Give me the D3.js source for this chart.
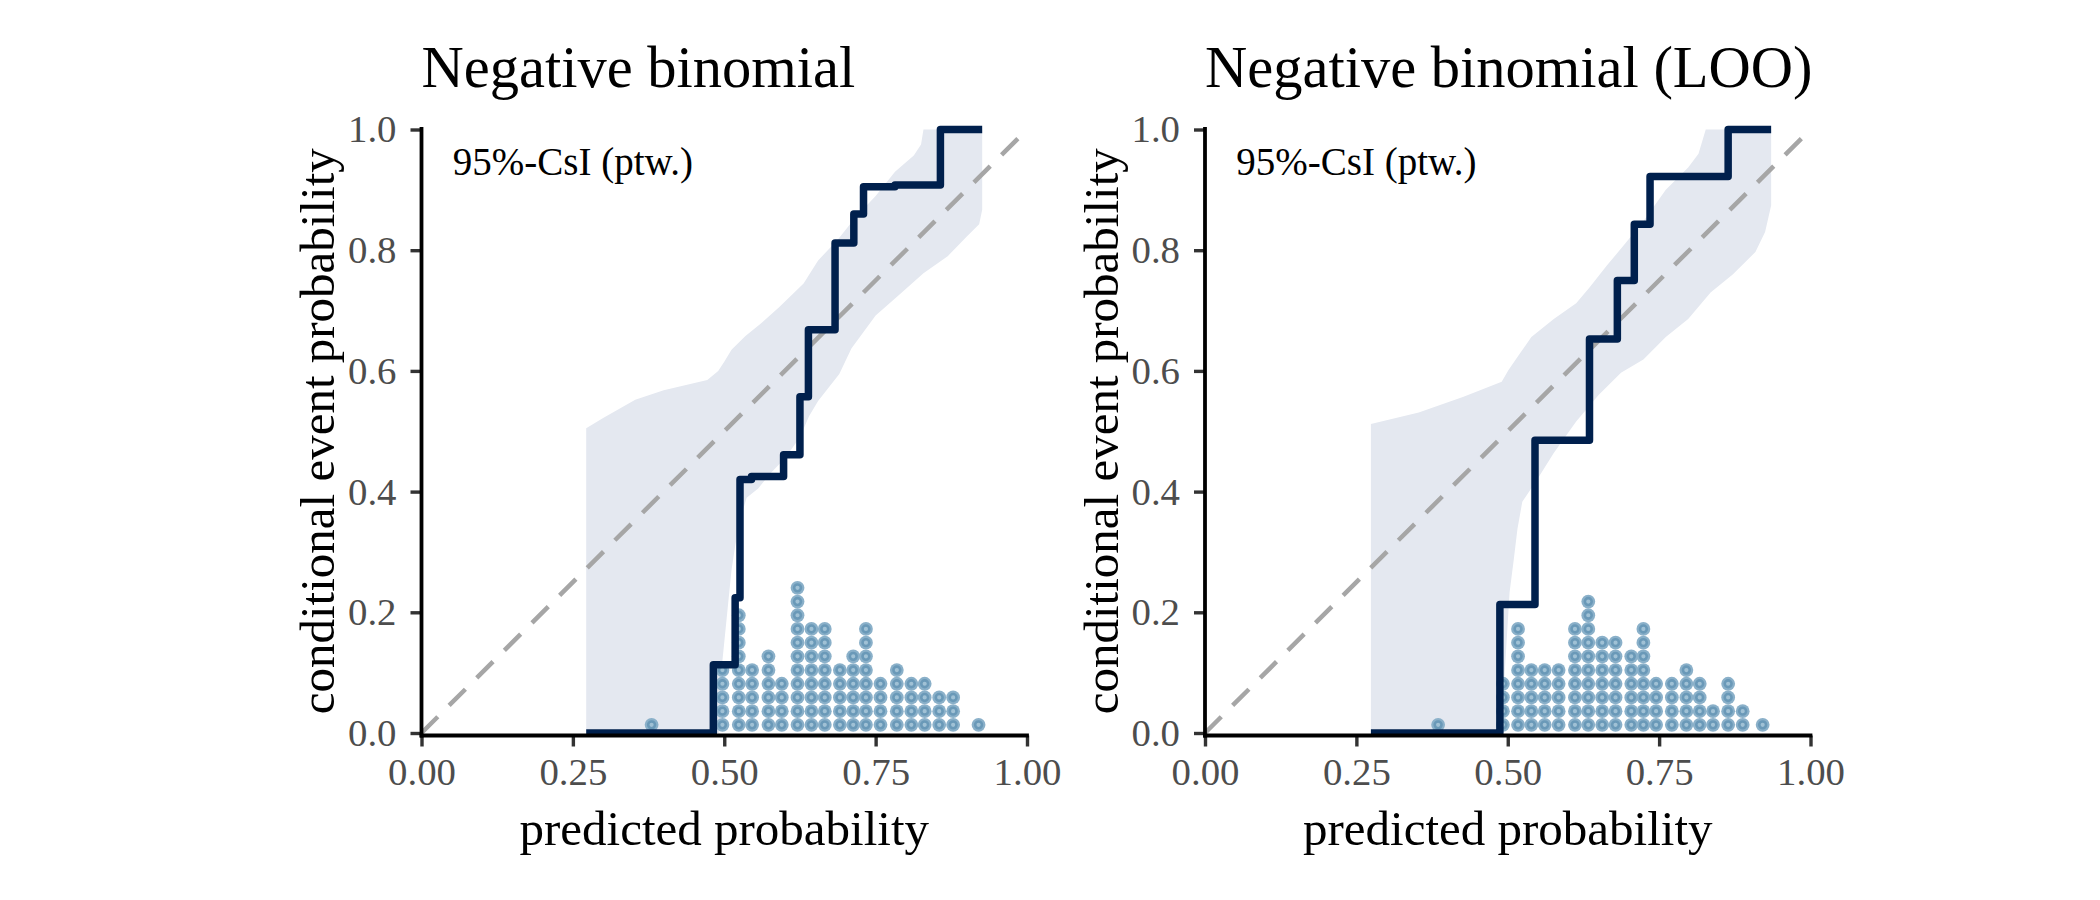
<!DOCTYPE html>
<html>
<head>
<meta charset="utf-8">
<script src="https://cdn.jsdelivr.net/npm/d3@7"></script>
<style>
  body { margin: 0; background: #fff; }
  svg text { font-family: 'Liberation Serif', 'Times New Roman', serif; }
</style>
</head>
<body>
<svg id="chart" width="2100" height="900"></svg>
<script>
// reliability diagrams
const panelTitles = ['Negative binomial', 'Negative binomial (LOO)'];
const bandLabel = '95%-CsI (ptw.)';
const xAxisTitle = 'predicted probability';
const yAxisTitle = 'conditional event probability';

const xTickValues = [0, 0.25, 0.5, 0.75, 1];
const xTickLabels = ['0.00', '0.25', '0.50', '0.75', '1.00'];
const yTickValues = [0, 0.2, 0.4, 0.6, 0.8, 1];
const yTickLabels = ['0.0', '0.2', '0.4', '0.6', '0.8', '1.0'];

// left panel: negative binomial
const nbStepX = [0.272, 0.482, 0.518, 0.526, 0.545, 0.598, 0.625, 0.639, 0.683, 0.714, 0.730, 0.782, 0.857];
const nbStepY = [0, 0.113, 0.224, 0.420, 0.425, 0.461, 0.557, 0.668, 0.812, 0.860, 0.905, 0.908, 1.0];
const nbStepEnd = 0.926;
const nbBandUpper = [
  [0.272, 0.505], [0.30, 0.522], [0.353, 0.552], [0.40, 0.568], [0.472, 0.585], [0.49, 0.600],
  [0.500, 0.615], [0.512, 0.635], [0.535, 0.658], [0.560, 0.678], [0.591, 0.706], [0.631, 0.745],
  [0.655, 0.783], [0.687, 0.817], [0.718, 0.856], [0.750, 0.890], [0.782, 0.930], [0.813, 0.957],
  [0.825, 0.975], [0.829, 1.0], [0.926, 1.0]
];
const nbBandLower = [
  [0.926, 0.867], [0.921, 0.843], [0.901, 0.823], [0.869, 0.790], [0.829, 0.762], [0.790, 0.727],
  [0.750, 0.692], [0.710, 0.637], [0.690, 0.595], [0.655, 0.550], [0.640, 0.525], [0.625, 0.490],
  [0.600, 0.455], [0.576, 0.430], [0.556, 0.405], [0.537, 0.390], [0.525, 0.350], [0.518, 0.310],
  [0.512, 0.270], [0.505, 0.200], [0.497, 0.120], [0.493, 0.020], [0.491, 0], [0.272, 0]
];
const nbDotX = [0.380, 0.497, 0.524, 0.546, 0.573, 0.595, 0.621, 0.644, 0.666, 0.691, 0.713,
  0.734, 0.758, 0.785, 0.809, 0.831, 0.855, 0.878, 0.920];
const nbDotCount = [1, 5, 9, 5, 6, 4, 11, 8, 8, 5, 6, 8, 4, 5, 4, 4, 3, 3, 1];

// right panel: negative binomial (LOO)
const looStepX = [0.274, 0.487, 0.545, 0.635, 0.681, 0.709, 0.735, 0.864];
const looStepY = [0, 0.213, 0.485, 0.653, 0.750, 0.843, 0.922, 1.0];
const looStepEnd = 0.935;
const looBandUpper = [
  [0.274, 0.512], [0.353, 0.531], [0.427, 0.557], [0.490, 0.582], [0.501, 0.601], [0.516, 0.623],
  [0.539, 0.656], [0.576, 0.686], [0.613, 0.712], [0.635, 0.738], [0.664, 0.775], [0.694, 0.811],
  [0.724, 0.848], [0.761, 0.900], [0.798, 0.937], [0.815, 0.960], [0.827, 1.0], [0.935, 1.0]
];
const looBandLower = [
  [0.935, 0.874], [0.925, 0.830], [0.909, 0.797], [0.872, 0.760], [0.835, 0.730], [0.798, 0.686],
  [0.761, 0.656], [0.724, 0.619], [0.687, 0.597], [0.650, 0.560], [0.613, 0.516], [0.576, 0.464],
  [0.546, 0.416], [0.524, 0.383], [0.516, 0.338], [0.510, 0.288], [0.503, 0.233], [0.495, 0.100],
  [0.491, 0], [0.274, 0]
];
const looDotX = [0.385, 0.492, 0.517, 0.539, 0.561, 0.584, 0.611, 0.633, 0.656, 0.678, 0.704,
  0.724, 0.745, 0.771, 0.795, 0.817, 0.839, 0.864, 0.888, 0.921];
const looDotCount = [1, 4, 8, 5, 5, 5, 8, 10, 7, 7, 6, 8, 4, 4, 5, 4, 2, 4, 2, 1];

(function () {
  const svg = d3.select('#chart');
  const layout = { lefts: [421.5, 1205], size: 605.5, top: 129.5, bottom: 733 };
  const colors = {
    band: '#e4e8f0', step: '#00204d', diag: '#a6a6a6',
    dotOuter: '#8ab0c9', dotRing: '#6a99b8', dotInner: '#a0c1d5',
    tickText: '#4d4d4d', tick: '#333333'
  };
  const dotBase = 0.0135;   // centre of first dot, data units
  const dotStep = 0.0227;   // stacking distance

  const panels = [
    { title: panelTitles[0], stepX: nbStepX, stepY: nbStepY, stepEnd: nbStepEnd,
      upper: nbBandUpper, lower: nbBandLower, dotX: nbDotX, dotCount: nbDotCount },
    { title: panelTitles[1], stepX: looStepX, stepY: looStepY, stepEnd: looStepEnd,
      upper: looBandUpper, lower: looBandLower, dotX: looDotX, dotCount: looDotCount }
  ];

  panels.forEach((cfg, pi) => {
    const left = layout.lefts[pi];
    const x = d3.scaleLinear().domain([0, 1]).range([left, left + layout.size]);
    const y = d3.scaleLinear().domain([0, 1]).range([layout.bottom, layout.top]);
    const g = svg.append('g').attr('class', 'panel');
    const line = d3.line().x(d => x(d[0])).y(d => y(d[1]));

    // credible band
    g.append('path')
      .attr('d', line(cfg.upper.concat(cfg.lower)) + 'Z')
      .attr('fill', colors.band);

    // identity line
    g.append('path')
      .attr('d', line([[0, 0], [1, 1]]))
      .attr('fill', 'none')
      .attr('stroke', colors.diag)
      .attr('stroke-width', 4.5)
      .attr('stroke-dasharray', '23,16');

    // dot histogram of predictions
    const dots = [];
    cfg.dotX.forEach((px, i) => {
      for (let k = 0; k < cfg.dotCount[i]; k++) dots.push({ px, k });
    });
    const dg = g.append('g').attr('class', 'dots');
    dg.selectAll('circle.outer').data(dots).join('circle')
      .attr('class', 'outer')
      .attr('cx', d => x(d.px))
      .attr('cy', d => y(dotBase + d.k * dotStep))
      .attr('r', 6.9)
      .attr('fill', colors.dotOuter);
    dg.selectAll('circle.ring').data(dots).join('circle')
      .attr('class', 'ring')
      .attr('cx', d => x(d.px))
      .attr('cy', d => y(dotBase + d.k * dotStep))
      .attr('r', 3.4)
      .attr('fill', colors.dotInner)
      .attr('stroke', colors.dotRing)
      .attr('stroke-width', 2.6);

    // isotonic calibration step curve
    const stepPts = cfg.stepX.map((sx, i) => [sx, cfg.stepY[i]]);
    stepPts.push([cfg.stepEnd, cfg.stepY[cfg.stepY.length - 1]]);
    g.append('path')
      .attr('d', d3.line().curve(d3.curveStepAfter).x(d => x(d[0])).y(d => y(d[1]))(stepPts))
      .attr('fill', 'none')
      .attr('stroke', colors.step)
      .attr('stroke-width', 7.5)
      .attr('stroke-linejoin', 'round');

    // axes
    const xAxisY = layout.bottom + 2.5;
    const xAxis = d3.axisBottom(x)
      .tickValues(xTickValues)
      .tickFormat((d, i) => xTickLabels[i])
      .tickSize(11).tickSizeOuter(0).tickPadding(11);
    const yAxis = d3.axisLeft(y)
      .tickValues(yTickValues)
      .tickFormat((d, i) => yTickLabels[i])
      .tickSize(11).tickSizeOuter(0).tickPadding(14);

    const gx = g.append('g').attr('transform', `translate(0,${xAxisY})`).call(xAxis);
    const gy = g.append('g').attr('transform', `translate(${left},0)`).call(yAxis);
    [gx, gy].forEach(ax => {
      ax.select('.domain').remove();
      ax.selectAll('.tick line').attr('stroke', colors.tick).attr('stroke-width', 3.4);
      ax.selectAll('.tick text')
        .attr('fill', colors.tickText)
        .style('font-size', '38.8px')
        .style('font-family', "'Liberation Serif', 'Times New Roman', serif");
    });

    // axis lines
    g.append('line')
      .attr('x1', x(0)).attr('x2', x(0))
      .attr('y1', y(1) - 2.5).attr('y2', xAxisY + 1.9)
      .attr('stroke', '#000').attr('stroke-width', 3.8);
    g.append('line')
      .attr('x1', x(0) - 1.9).attr('x2', x(1) + 1.9)
      .attr('y1', xAxisY).attr('y2', xAxisY)
      .attr('stroke', '#000').attr('stroke-width', 3.8);

    // texts
    const midY = (y(0) + y(1)) / 2;
    svg.append('text')
      .attr('x', x(0)).attr('y', 87)
      .attr('text-anchor', 'start')
      .style('font-size', '58.5px')
      .text(cfg.title);
    svg.append('text')
      .attr('x', x(0.25)).attr('y', y(0.925))
      .attr('text-anchor', 'middle')
      .style('font-size', '39px')
      .text(bandLabel);
    svg.append('text')
      .attr('x', (x(0) + x(1)) / 2).attr('y', 845)
      .attr('text-anchor', 'middle')
      .style('font-size', '49px')
      .text(xAxisTitle);
    svg.append('text')
      .attr('transform', `translate(${x(0) - 87.5},${midY}) rotate(-90)`)
      .attr('text-anchor', 'middle')
      .style('font-size', '49px')
      .text(yAxisTitle);
  });
})();
</script>
</body>
</html>
